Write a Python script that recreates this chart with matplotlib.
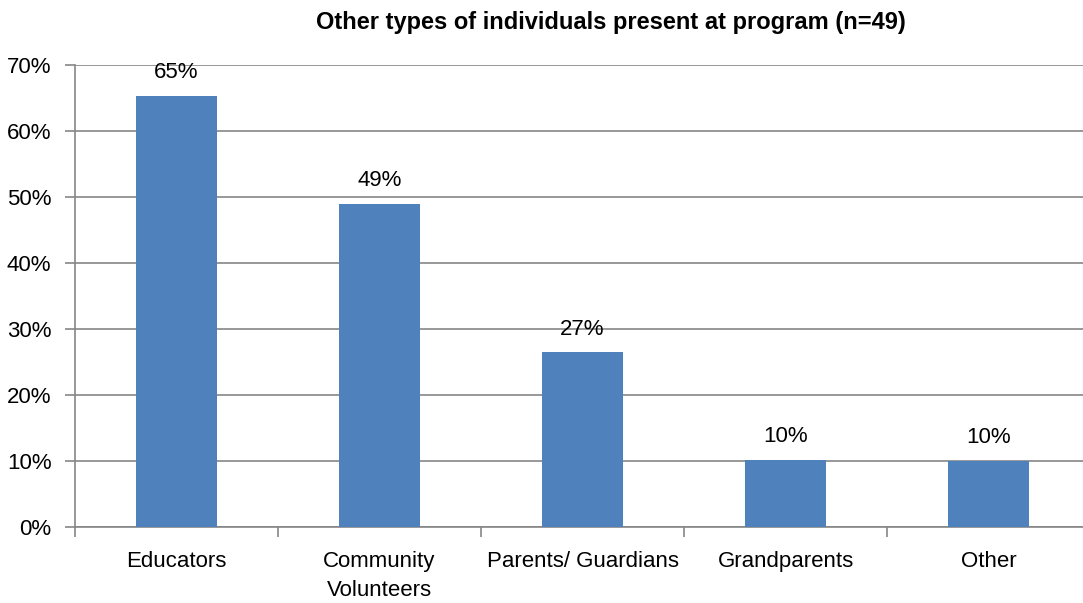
import matplotlib.pyplot as plt
from matplotlib.ticker import FuncFormatter

plt.rcParams["font.family"] = ["Liberation Sans", "DejaVu Sans"]

# dati
categories = ["Educators", "Community\nVolunteers", "Parents/ Guardians", "Grandparents", "Other"]
values = [65.3, 49.0, 26.5, 10.2, 10.0]
labels = ["65%", "49%", "27%", "10%", "10%"]

BAR_COLOR = "#4F81BD"
GRID_COLOR = "#868686"

fig = plt.figure(figsize=(10.83, 6.03), dpi=100)
ax = fig.add_axes([75 / 1083, 1 - 527 / 603, 1015 / 1083, 462 / 603])

x = list(range(len(categories)))
ax.bar(x, values, width=0.4, color=BAR_COLOR, zorder=3)

for xi, v, lab in zip(x, values, labels):
    ax.text(xi, v + 1.9, lab, ha="center", va="bottom", fontsize=16, color="black", zorder=4)

ax.set_xlim(-0.5, len(categories) - 0.5)
ax.set_ylim(0, 70)
ax.set_yticks(range(0, 71, 10))
ax.yaxis.set_major_formatter(FuncFormatter(lambda v, p: f"{int(v)}%"))

ax.grid(True, axis="y", color=GRID_COLOR, linewidth=1.2, zorder=0)

# tacche dell'asse x tra le categorie
ax.set_xticks([i - 0.5 for i in range(len(categories) + 1)])
ax.set_xticklabels([])
ax.set_xticks(x, minor=True)
ax.set_xticklabels(categories, minor=True, fontsize=16, linespacing=1.5)
ax.tick_params(axis="x", which="minor", length=0, pad=17)
ax.tick_params(axis="x", which="major", length=7, color=GRID_COLOR, width=1.2)
ax.tick_params(axis="y", length=7, color=GRID_COLOR, width=1.2, labelsize=16, pad=10)

for side in ["top", "right"]:
    ax.spines[side].set_visible(False)
for side in ["left", "bottom"]:
    ax.spines[side].set_color(GRID_COLOR)
    ax.spines[side].set_linewidth(1.2)

fig.text(611 / 1083, 1 - 22 / 603, "Other types of individuals present at program (n=49)",
         ha="center", va="center", fontsize=17, fontweight="bold")

fig.savefig("out.png", dpi=100)
